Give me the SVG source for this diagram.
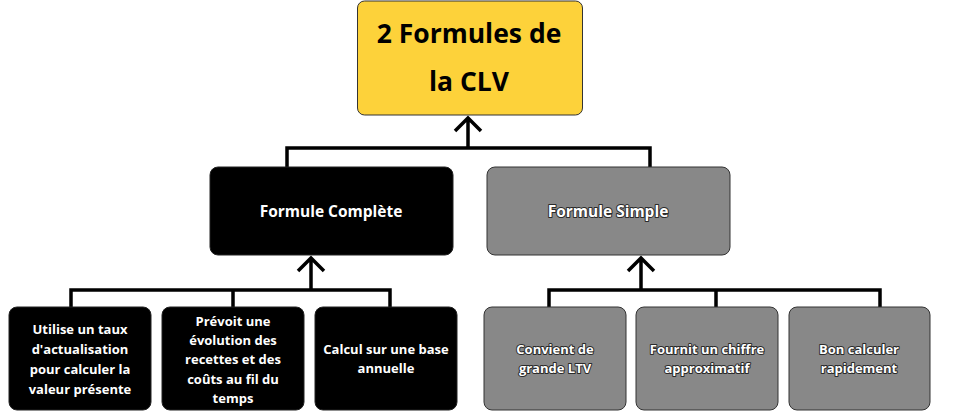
<svg xmlns="http://www.w3.org/2000/svg" width="968" height="411" viewBox="0 0 968 411">
<style>
.t{font-family:"Open Sans","Noto Sans",sans-serif;font-weight:bold;text-anchor:middle;dominant-baseline:central}
.w{fill:#fff}
.o{fill:#fff;stroke:#2a2a2a;stroke-width:2;paint-order:stroke;stroke-linejoin:round}
.k{fill:#000}
.bk{fill:#000;stroke:#222;stroke-width:1}
.gr{fill:#888;stroke:#333;stroke-width:1}
.c{fill:none;stroke:#000;stroke-width:3.5;stroke-linecap:butt;stroke-linejoin:miter}
.s{font-size:13px}
.m{font-size:15.5px}
</style>
<rect width="968" height="411" fill="#fff"/>
<g id="connectors">
<path class="c" d="M468,148V118M455,131L468,118L481,131"/>
<path class="c" d="M287,168V148H650V171"/>
<path class="c" d="M311,290V258M298,271L311,258L324,271"/>
<path class="c" d="M71,308V290H390V308M233,290V308"/>
<path class="c" d="M641,290V258M628,271L641,258L654,271"/>
<path class="c" d="M549,308V290H880V308M716,290V308"/>
</g>
<g id="root">
<rect x="357.5" y="1" width="225" height="114" rx="7" fill="#FDD23A" stroke="#333" stroke-width="1"/>
<text class="t k" x="469" y="33" font-size="26.5">2 Formules de</text>
<text class="t k" x="469" y="81" font-size="26.5">la CLV</text>
</g>
<g id="complete">
<rect class="bk" x="210" y="167" width="243" height="88" rx="8"/>
<text class="t w m" x="331" y="211">Formule Complète</text>
</g>
<g id="simple">
<rect class="gr" x="487" y="167" width="243" height="88" rx="8"/>
<text class="t o m" x="608" y="211">Formule Simple</text>
</g>
<g id="c1">
<rect class="bk" x="9" y="307" width="142" height="103" rx="8"/>
<text class="t w s" x="80"><tspan x="80" y="329">Utilise un taux</tspan><tspan x="80" y="349">d'actualisation</tspan><tspan x="80" y="369">pour calculer la</tspan><tspan x="80" y="389">valeur présente</tspan></text>
</g>
<g id="c2">
<rect class="bk" x="162" y="307" width="142" height="103" rx="8"/>
<text class="t w s" x="233"><tspan x="233" y="321">Prévoit une</tspan><tspan x="233" y="340">évolution des</tspan><tspan x="233" y="359">recettes et des</tspan><tspan x="233" y="379">coûts au fil du</tspan><tspan x="233" y="398">temps</tspan></text>
</g>
<g id="c3">
<rect class="bk" x="315" y="307" width="142" height="103" rx="8"/>
<text class="t w s" x="386"><tspan x="386" y="349">Calcul sur une base</tspan><tspan x="386" y="368">annuelle</tspan></text>
</g>
<g id="s1">
<rect class="gr" x="484" y="307" width="142" height="103" rx="8"/>
<text class="t o s" x="555"><tspan x="555" y="349">Convient de</tspan><tspan x="555" y="368">grande LTV</tspan></text>
</g>
<g id="s2">
<rect class="gr" x="636" y="307" width="142" height="103" rx="8"/>
<text class="t o s" x="707"><tspan x="707" y="349">Fournit un chiffre</tspan><tspan x="707" y="368">approximatif</tspan></text>
</g>
<g id="s3">
<rect class="gr" x="789" y="307" width="141" height="103" rx="8"/>
<text class="t o s" x="859"><tspan x="859" y="349">Bon calculer</tspan><tspan x="859" y="368">rapidement</tspan></text>
</g>
</svg>
